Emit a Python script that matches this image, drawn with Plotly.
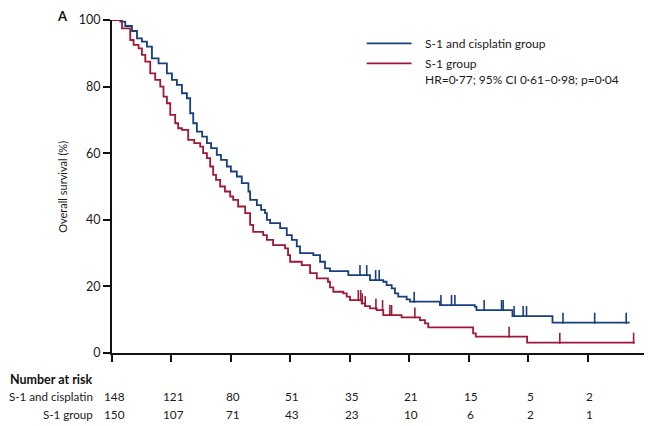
import plotly.graph_objects as go

# ---------------- data (time in months, survival in %) ----------------
blue_time = [0, 0.84, 1.34, 2.02, 2.52, 3.02, 3.53, 4.03, 4.70, 5.54, 6.05, 6.55, 7.06, 7.56,
             7.89, 8.2, 8.57, 9.1, 9.58, 10.0, 10.58, 11.0, 11.59, 12.0, 12.6, 13.1, 13.77,
             13.94, 14.62, 15.05, 15.45, 15.63, 15.96, 16.97, 17.64, 18.15, 18.65, 18.98,
             20.32, 21.0, 21.5, 22.0, 23.85, 26.04, 27.38, 27.72, 28.23, 28.56, 28.89, 29.74,
             30.07, 33.1, 36.62, 36.79, 40.42, 44.46, 52.25]
blue_surv = [100, 99.5, 98.2, 96.7, 94.5, 93.5, 92, 88.5, 87, 84, 82, 80.5, 78, 76.5,
             72, 69, 66.5, 65, 63, 61.5, 59.5, 58, 56, 54.5, 53, 51, 48.5,
             46, 44.4, 43, 42, 40, 39, 37.5, 35.4, 34, 32, 30,
             29.4, 27.4, 25.4, 24.6, 23.4, 21.9, 21.4, 20.4, 19.4, 17.9, 16.9, 16.1,
             15.4, 14.4, 13.9, 12.9, 11.1, 9.1, 9.1]
blue_censor = [25.03, 25.71, 26.61, 26.97, 30.5, 33.2, 34.27, 34.61, 37.56, 39.32, 39.48,
               40.59, 41.5, 41.84, 45.52, 48.72, 51.9]

red_time = [0, 1.01, 1.84, 2.18, 2.68, 3.02, 3.36, 3.86, 4.36, 4.87, 5.2, 5.54, 5.88, 6.38,
            6.68, 7.06, 7.69, 8.3, 8.9, 9.2, 9.58, 9.91, 10.21, 10.5, 10.92, 11.4, 11.93,
            12.23, 12.73, 13.44, 13.94, 14.25, 15.26, 15.63, 16.26, 17.47, 17.77, 17.98,
            19.15, 19.99, 20.67, 21.8, 22.0, 22.34, 23.35, 23.69, 24.02, 25.2, 25.54, 26.04,
            26.71, 27.38, 29.23, 31.08, 31.59, 31.92, 36.45, 36.72, 41.9, 52.75]
red_surv = [100, 97.5, 94, 92.5, 91.5, 89.5, 87.5, 84, 82, 80, 77, 75, 71.5, 69,
            67.5, 67, 64, 63, 62, 60, 58.5, 56, 53.5, 52, 50, 48.5, 47,
            46, 44, 42, 38.5, 36.4, 35.4, 34, 32.4, 31.4, 29.4, 27.4,
            26.4, 24, 22.4, 21.4, 19.7, 18.4, 17.9, 16.9, 15.9, 14.9, 14.1, 13.4,
            12.9, 11.4, 10.7, 9.9, 8.9, 7.7, 5.9, 4.9, 3.1, 3.1]
red_censor = [24.86, 25.1, 25.26, 25.56, 26.64, 27.31, 28.05, 28.22, 30.57, 40.08, 45.2, 52.65]

tick_months = [0, 6, 12, 18, 24, 30, 36, 42, 48, 54]
risk_times = [0, 6, 12, 18, 24, 30, 36, 42, 48]
risk_blue = [148, 121, 80, 51, 35, 21, 15, 5, 2]
risk_red = [150, 107, 71, 43, 23, 10, 6, 2, 1]

BLUE = "#173f7f"
RED = "#a01838"
FONT = "Lato"
TXT = "#1a1a1a"


def surv_at(times, surv, t):
    s = surv[0]
    for ti, si in zip(times, surv):
        if ti <= t:
            s = si
    return s


def censor_segments(times, surv, ctimes, h=3.0):
    xs, ys = [], []
    for c in ctimes:
        s = surv_at(times, surv, c)
        xs += [c, c, None]
        ys += [s - 0.3, s + h, None]
    return xs, ys


fig = go.Figure()
for t, s, c, col in [(blue_time, blue_surv, blue_censor, BLUE),
                     (red_time, red_surv, red_censor, RED)]:
    fig.add_trace(go.Scatter(x=t, y=s, mode="lines", line=dict(color=col, width=1.8, shape="hv"),
                             hoverinfo="skip", showlegend=False))
    cx, cy = censor_segments(t, s, c)
    fig.add_trace(go.Scatter(x=cx, y=cy, mode="lines", line=dict(color=col, width=1.6),
                             hoverinfo="skip", showlegend=False))

annotations = []
# number at risk
annotations.append(dict(text="<b>Number at risk</b>", x=-0.031, y=-0.081, xref="paper", yref="paper",
                        xanchor="right", yanchor="middle", showarrow=False,
                        font=dict(family=FONT, size=12.5, color="#111")))
annotations.append(dict(text="S-1 and cisplatin", x=-0.031, y=-0.131, xref="paper", yref="paper",
                        xanchor="right", yanchor="middle", showarrow=False,
                        font=dict(family=FONT, size=11.6, color=TXT)))
annotations.append(dict(text="S-1 group", x=-0.031, y=-0.186, xref="paper", yref="paper",
                        xanchor="right", yanchor="middle", showarrow=False,
                        font=dict(family=FONT, size=11.6, color=TXT)))
for t, nb, nr in zip(risk_times, risk_blue, risk_red):
    annotations.append(dict(text=str(nb), x=t, y=-0.131, xref="x", yref="paper", xshift=2,
                            xanchor="center", yanchor="middle", showarrow=False,
                            font=dict(family=FONT, size=11.8, color=TXT)))
    annotations.append(dict(text=str(nr), x=t, y=-0.186, xref="x", yref="paper", xshift=2,
                            xanchor="center", yanchor="middle", showarrow=False,
                            font=dict(family=FONT, size=11.8, color=TXT)))

# legend text
annotations.append(dict(text="S-1 and cisplatin group", x=0.582, y=0.930, xref="paper", yref="paper",
                        xanchor="left", yanchor="middle", showarrow=False,
                        font=dict(family=FONT, size=12, color=TXT)))
annotations.append(dict(text="S-1 group", x=0.582, y=0.870, xref="paper", yref="paper",
                        xanchor="left", yanchor="middle", showarrow=False,
                        font=dict(family=FONT, size=12, color=TXT)))
annotations.append(dict(text="HR=0·77; 95% CI 0·61–0·98; p=0·04", x=0.582, y=0.820, xref="paper",
                        yref="paper", xanchor="left", yanchor="middle", showarrow=False,
                        font=dict(family=FONT, size=12, color=TXT)))
# panel letter
annotations.append(dict(text="<b>A</b>", x=-0.106, y=1.013, xref="paper", yref="paper",
                        xanchor="left", yanchor="middle", showarrow=False,
                        font=dict(family=FONT, size=13, color="#111")))
# y title
annotations.append(dict(text="Overall survival (%)", x=-0.093, y=0.5, xref="paper", yref="paper",
                        textangle=-90, xanchor="center", yanchor="middle", showarrow=False,
                        font=dict(family=FONT, size=11, color=TXT)))

shapes = [
    dict(type="line", xref="paper", yref="paper", x0=0.476, x1=0.560, y0=0.930, y1=0.930,
         line=dict(color=BLUE, width=1.8)),
    dict(type="line", xref="paper", yref="paper", x0=0.476, x1=0.560, y0=0.870, y1=0.870,
         line=dict(color=RED, width=1.8)),
]

# page body adds an 8px offset, so the figure is sized to fill the rest of the window
fig.update_layout(
    width=644, height=418,
    margin=dict(l=104, r=5, t=12, b=73),
    paper_bgcolor="white", plot_bgcolor="white",
    annotations=annotations, shapes=shapes,
    showlegend=False,
    font=dict(family=FONT, color=TXT),
)
fig.update_xaxes(range=[0, 54], tickvals=tick_months, showticklabels=False, ticks="outside",
                 ticklen=7, tickwidth=1.8, tickcolor="#111", showline=True, linecolor="#111",
                 linewidth=1.8, showgrid=False, zeroline=False)
fig.update_yaxes(range=[0, 100], tickvals=[0, 20, 40, 60, 80, 100], ticks="outside", ticklen=7,
                 tickwidth=1.8, tickcolor="#111", showline=True, linecolor="#111", linewidth=1.8,
                 showgrid=False, zeroline=False, tickfont=dict(family=FONT, size=12.5, color=TXT))

fig.write_html("out.html")
